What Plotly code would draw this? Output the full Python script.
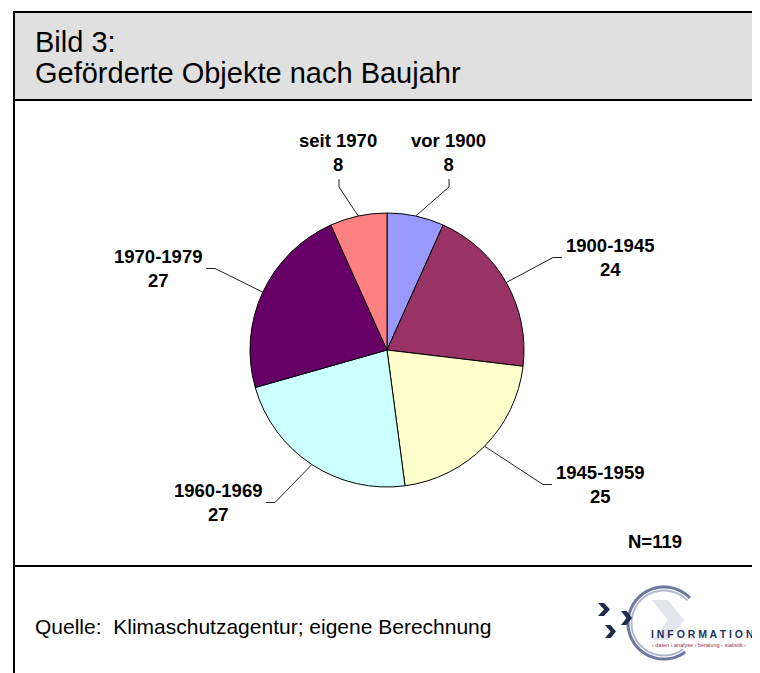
import numpy as np
import plotly.graph_objects as go

# ---------------- data ----------------
categories = ["vor 1900", "1900-1945", "1945-1959", "1960-1969", "1970-1979", "seit 1970"]
values = [8, 24, 25, 27, 27, 8]
slice_colors = ["#9999FF", "#993366", "#FFFFCC", "#CCFFFF", "#660066", "#FF8080"]
total_n = 119

title_line1 = "Bild 3:"
title_line2 = "Geförderte Objekte nach Baujahr"
source_text = "Quelle:  Klimaschutzagentur; eigene Berechnung"

# ---------------- layout constants (screen pixels) ----------------
SW, SH = 760, 673                    # browser window
OFF = 8                              # page body margin of the html page
W, H = SW - OFF, SH - OFF            # figure fits the window without scrollbars
CX, CY, R = 387, 350, 137            # pie centre & radius
label_center = [(448, 152), (610, 257), (600, 484), (218, 502), (158, 268), (338, 152)]
label_side = ["top", "right", "right", "left", "left", "top"]
LABEL_W = 90
FONT = "Liberation Sans, Arial"
XR = SW                              # frame runs to the right edge

fig = go.Figure()

fig.add_trace(go.Pie(
    labels=categories, values=values, sort=False, direction="clockwise", rotation=0,
    marker=dict(colors=slice_colors, line=dict(color="black", width=1)),
    textinfo="none", hoverinfo="label+value", showlegend=False,
    domain=dict(x=[(CX - R - OFF) / W, (CX + R - OFF) / W],
                y=[1 - (CY + R - OFF) / H, 1 - (CY - R - OFF) / H]),
))

# leader lines: start on the pie edge at each slice's mid-angle
cum = np.cumsum([0] + values)
tot = float(sum(values))
for i, cat in enumerate(categories):
    mid = (cum[i] + cum[i + 1]) / 2 / tot * 2 * np.pi
    ex, ey = CX + R * np.sin(mid), CY - R * np.cos(mid)
    lx, ly = label_center[i]
    side = label_side[i]
    if side == "top":
        end = (lx + 1, ly + 27); elbow = (lx + 1, ly + 35)
    elif side == "right":
        end = (lx - LABEL_W / 2 - 3, ly + 0.5); elbow = (end[0] - 9, end[1])
    else:
        end = (lx + LABEL_W / 2 + 3, ly + 0.5); elbow = (end[0] + 9, end[1])
    fig.add_trace(go.Scatter(
        x=[ex, elbow[0], end[0]], y=[ey, elbow[1], end[1]], mode="lines",
        line=dict(color="#222222", width=1), hoverinfo="skip", showlegend=False))
    fig.add_annotation(
        x=lx, y=ly, xref="x", yref="y", text=f"<b>{cat}<br>{values[i]}</b>",
        showarrow=False, xanchor="center", yanchor="middle", align="center",
        font=dict(family=FONT, size=18.5, color="black"))

# ---------------- frame ----------------
shapes = [
    dict(type="rect", xref="x", yref="y", x0=14, x1=XR, y0=12, y1=100,
         fillcolor="#E0E0E0", line=dict(width=0), layer="below"),
    dict(type="path", xref="x", yref="y", path=f"M {XR},12 L 14,12 L 14,{SH}",
         line=dict(color="black", width=2)),
    dict(type="line", xref="x", yref="y", x0=14, x1=XR, y0=100, y1=100,
         line=dict(color="black", width=2)),
    dict(type="line", xref="x", yref="y", x0=14, x1=XR, y0=566, y1=566,
         line=dict(color="black", width=2)),
]

# ---------------- logo ----------------
def chevron(x0, y0, w, h, color):
    ym = y0 + h / 2
    pts = [(x0, y0), (x0 + w * 0.5, y0), (x0 + w, ym), (x0 + w * 0.5, y0 + h), (x0, y0 + h), (x0 + w * 0.5, ym)]
    path = "M " + " L ".join(f"{px},{py}" for px, py in pts) + " Z"
    return dict(type="path", xref="x", yref="y", path=path, fillcolor=color, line=dict(width=0))

shapes.append(chevron(652, 600, 32, 40, "#E3E5EE"))
ang = np.linspace(np.deg2rad(44), np.deg2rad(306), 80)
for rr, col, wd in [(36, "#6E779E", 3), (32.5, "#B3B8CE", 2)]:
    pts = [(664 + rr * np.cos(a), 623 - rr * np.sin(a)) for a in ang]
    shapes.append(dict(type="path", xref="x", yref="y",
                       path="M " + " L ".join(f"{px:.1f},{py:.1f}" for px, py in pts),
                       line=dict(color=col, width=wd)))
shapes.append(chevron(598, 603, 12, 13, "#1E2D4A"))
shapes.append(chevron(621, 611, 11, 14, "#1E2D4A"))
shapes.append(chevron(605, 625, 11, 13, "#1E2D4A"))

fig.add_annotation(x=649, y=634, xref="x", yref="y", text="<b>I N F O R M A T I O N</b>",
                   showarrow=False, xanchor="left", yanchor="middle",
                   font=dict(family=FONT, size=10.5, color="#25335A"))
fig.add_annotation(x=650, y=645, xref="x", yref="y",
                   text="› daten › analyse › beratung › statistik ›",
                   showarrow=False, xanchor="left", yanchor="middle",
                   font=dict(family=FONT, size=5.5, color="#A03048"))

# ---------------- texts ----------------
fig.add_annotation(x=33, y=42, xref="x", yref="y", text=title_line1, showarrow=False,
                   xanchor="left", yanchor="middle",
                   font=dict(family=FONT, size=29, color="black"))
fig.add_annotation(x=33, y=73, xref="x", yref="y", text=title_line2, showarrow=False,
                   xanchor="left", yanchor="middle",
                   font=dict(family=FONT, size=29, color="black"))
fig.add_annotation(x=655, y=541, xref="x", yref="y", text=f"<b>N={total_n}</b>", showarrow=False,
                   xanchor="center", yanchor="middle",
                   font=dict(family=FONT, size=18.5, color="black"))
fig.add_annotation(x=33, y=626, xref="x", yref="y", text=source_text, showarrow=False,
                   xanchor="left", yanchor="middle",
                   font=dict(family=FONT, size=21, color="black"))

fig.update_layout(
    width=W, height=H, margin=dict(l=0, r=0, t=0, b=0),
    paper_bgcolor="white", plot_bgcolor="white", shapes=shapes,
    xaxis=dict(range=[OFF, SW], visible=False, fixedrange=True),
    yaxis=dict(range=[SH, OFF], visible=False, fixedrange=True),
    showlegend=False,
)

fig.write_html("out.html")
